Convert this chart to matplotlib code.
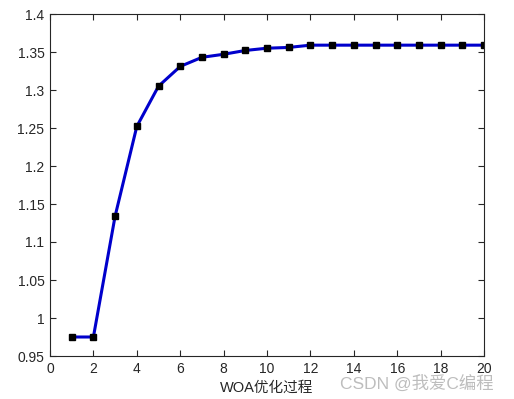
import matplotlib
matplotlib.use("Agg")
import matplotlib.pyplot as plt

plt.rcParams['font.family'] = ['Liberation Sans', 'Noto Sans CJK SC', 'DejaVu Sans']

# WOA optimisation curve
iterations = list(range(1, 21))
fitness = [0.975, 0.975, 1.134, 1.252, 1.305, 1.331, 1.343, 1.347, 1.352, 1.355,
           1.356, 1.359, 1.359, 1.359, 1.359, 1.359, 1.359, 1.359, 1.359, 1.359]
xticks = list(range(0, 21, 2))
yticks = [0.95, 1.0, 1.05, 1.1, 1.15, 1.2, 1.25, 1.3, 1.35, 1.4]
ytick_labels = ['0.95', '1', '1.05', '1.1', '1.15', '1.2', '1.25', '1.3', '1.35', '1.4']

fig = plt.figure(figsize=(5.14, 3.99), dpi=100)
ax = fig.add_axes([50 / 514, 1 - 356 / 399, 434 / 514, 342 / 399])

ax.plot(iterations, fitness, color='#0000CC', linewidth=2.2,
        marker='s', markersize=5, markerfacecolor='k', markeredgecolor='k')

ax.set_xlim(0, 20)
ax.set_ylim(0.95, 1.4)
ax.set_xticks(xticks)
ax.set_yticks(yticks)
ax.set_yticklabels(ytick_labels)
ax.tick_params(direction='in', top=True, right=True, labelsize=10,
               colors='#262626', length=4, width=0.8)
ax.tick_params(axis='x', pad=4)
ax.tick_params(axis='y', pad=4)
for s in ax.spines.values():
    s.set_color('#262626')
    s.set_linewidth(0.8)

ax.set_xlabel('WOA优化过程', fontsize=10.5, color='#262626', labelpad=4)

# watermark
fig.text(340 / 514, 1 - 383 / 399, 'CSDN @我爱C编程', fontsize=12.5,
         color='#888888', alpha=0.55, va='center', ha='left')

fig.savefig('out.png', dpi=100)
